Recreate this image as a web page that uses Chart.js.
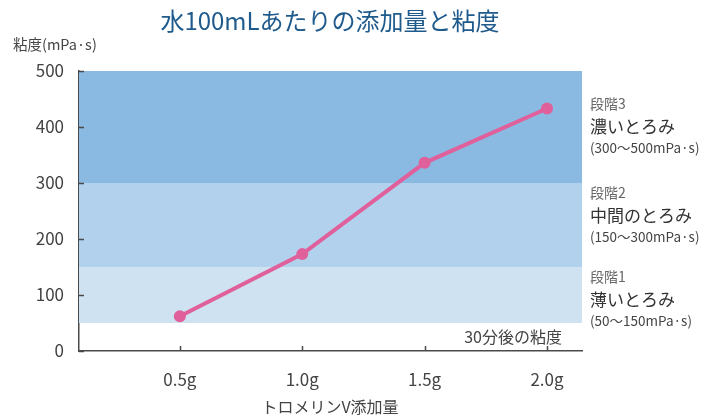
<!DOCTYPE html>
<html lang="ja">
<head>
<meta charset="utf-8">
<title>水100mLあたりの添加量と粘度</title>
<script src="https://cdn.jsdelivr.net/npm/chart.js@4.4.1/dist/chart.umd.min.js"></script>
<style>
  html, body { margin: 0; padding: 0; background: #ffffff; }
  #wrap { width: 706px; height: 418px; position: relative; }
</style>
</head>
<body>
<div id="wrap"><canvas id="chart" width="706" height="418"></canvas></div>
<script>
// Added amount of thickener (g per 100 mL water)
const grams = [0.5, 1.0, 1.5, 2.0];
// Viscosity after 30 minutes (mPa·s)
const viscosity = [62, 173, 336, 433];
// Y axis ticks
const yTicks = [0, 100, 200, 300, 400, 500];

// Thickness stages (bands behind the line)
const stageNames = ['段階1', '段階2', '段階3'];
const stageTitles = ['薄いとろみ', '中間のとろみ', '濃いとろみ'];
const stageRanges = ['(50～150mPa·s)', '(150～300mPa·s)', '(300～500mPa·s)'];
const stageLow = [50, 150, 300];
const stageHigh = [150, 300, 500];
const stageColors = ['#cfe2f1', '#b1d1ec', '#8ab9e1'];

const FONT = '"Noto Sans CJK JP", "Noto Sans", sans-serif';
const AXIS = '#4a4a4a';

const decorations = {
  id: 'decorations',
  beforeDatasetsDraw(chart) {
    const { ctx, chartArea: a, scales: { x, y } } = chart;
    ctx.save();
    // stage bands
    stageLow.forEach((lo, i) => {
      const top = y.getPixelForValue(stageHigh[i]);
      const bot = y.getPixelForValue(lo);
      ctx.fillStyle = stageColors[i];
      ctx.fillRect(a.left, top, a.right - a.left, bot - top);
    });
    // inward tick marks
    ctx.strokeStyle = AXIS;
    ctx.lineWidth = 1.5;
    ctx.beginPath();
    yTicks.forEach(v => {
      const py = Math.round(y.getPixelForValue(v)) + 0.5;
      ctx.moveTo(a.left, py);
      ctx.lineTo(a.left + 5, py);
    });
    grams.forEach(v => {
      const px = Math.round(x.getPixelForValue(v)) + 0.5;
      ctx.moveTo(px, a.bottom);
      ctx.lineTo(px, a.bottom - 5);
    });
    ctx.stroke();
    ctx.restore();
  },
  afterDraw(chart) {
    const { ctx, chartArea: a } = chart;
    ctx.save();
    ctx.textBaseline = 'middle';
    // title
    ctx.fillStyle = '#1f5a8c';
    ctx.font = `400 24px ${FONT}`;
    ctx.textAlign = 'center';
    ctx.fillText('水100mLあたりの添加量と粘度', 330, 21);
    // y axis caption
    ctx.fillStyle = '#444';
    ctx.font = `14.5px ${FONT}`;
    ctx.textAlign = 'left';
    ctx.fillText('粘度(mPa·s)', 13, 44);
    // x axis caption
    ctx.font = `16px ${FONT}`;
    ctx.textAlign = 'center';
    ctx.fillText('トロメリンV添加量', 330, 407);
    // note inside the plot
    ctx.font = `16px ${FONT}`;
    ctx.textAlign = 'right';
    ctx.fillText('30分後の粘度', 562, 337);
    // stage labels on the right
    ctx.textAlign = 'left';
    const lx = a.right + 8;
    const anchors = [277, 193, 104];
    stageNames.forEach((n, i) => {
      const top = anchors[i];
      ctx.fillStyle = '#666';
      ctx.font = `14px ${FONT}`;
      ctx.fillText(n, lx, top);
      ctx.fillStyle = '#333';
      ctx.font = `17px ${FONT}`;
      ctx.fillText(stageTitles[i], lx, top + 23);
      ctx.fillStyle = '#444';
      ctx.font = `13.5px ${FONT}`;
      ctx.fillText(stageRanges[i], lx, top + 44);
    });
    ctx.restore();
  }
};

new Chart(document.getElementById('chart'), {
  type: 'line',
  data: {
    datasets: [{
      data: grams.map((g, i) => ({ x: g, y: viscosity[i] })),
      borderColor: '#e0609c',
      backgroundColor: '#e0609c',
      borderWidth: 4,
      pointRadius: 6,
      pointHoverRadius: 6,
      pointBorderWidth: 0,
      pointBackgroundColor: '#e0609c',
      tension: 0
    }]
  },
  options: {
    responsive: false,
    animation: false,
    events: [],
    layout: { padding: { left: 0, right: 124, top: 71, bottom: 0 } },
    plugins: { legend: { display: false }, tooltip: { enabled: false } },
    scales: {
      x: {
        type: 'linear',
        min: 0.088,
        max: 2.143,
        afterBuildTicks: s => { s.ticks = grams.map(v => ({ value: v })); },
        afterFit: s => { s.height = 67; },
        grid: { display: false },
        border: { display: true, color: AXIS, width: 1.5 },
        ticks: {
          padding: 10,
          color: '#444',
          font: { family: FONT, size: 17 },
          callback: v => v.toFixed(1) + 'g'
        }
      },
      y: {
        min: 0,
        max: 500,
        afterBuildTicks: s => { s.ticks = yTicks.map(v => ({ value: v })); },
        afterFit: s => { s.width = 79; },
        grid: { display: false },
        border: { display: true, color: AXIS, width: 1.5 },
        ticks: {
          padding: 7,
          color: '#444',
          font: { family: FONT, size: 17 }
        }
      }
    }
  },
  plugins: [decorations]
});
</script>
</body>
</html>
